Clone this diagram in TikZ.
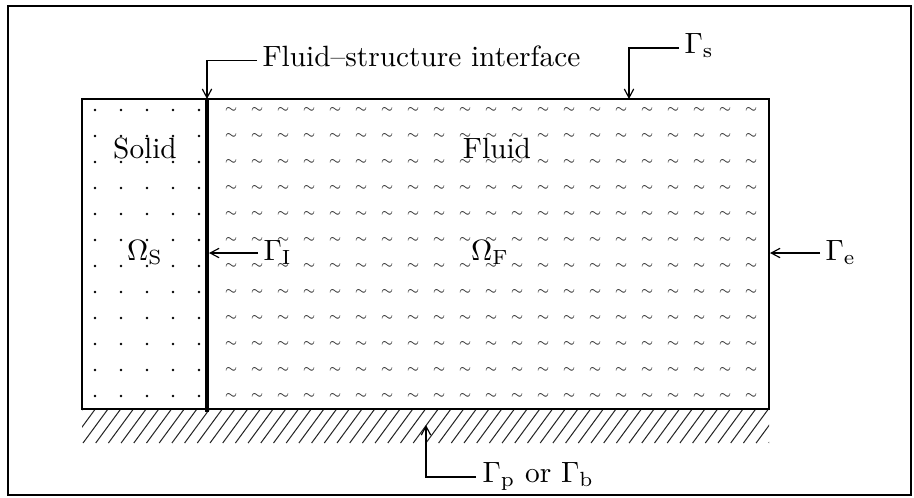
\documentclass[tikz,border=0pt]{standalone}
\usetikzlibrary{arrows.meta}
\begin{document}
\begin{tikzpicture}[x=0.341pt,y=-0.341pt,
  lead/.style={line width=0.4pt,-{Straight Barb[length=3pt,width=3.2pt]}},
  lbl/.style={inner sep=0pt,anchor=base west},
  ctr/.style={inner sep=0pt,anchor=base},
  frame/.style={line width=0.7pt},
  hatchline/.style={line width=0.35pt,black!85},
  tildemark/.style={inner sep=0pt,font=\tiny,scale=0.85,black!85},
  dotmark/.style={fill=black,inner sep=0pt,minimum size=0pt}]
\useasboundingbox (0,0) rectangle (914,497);
\draw[frame] (8,6) rectangle (911,495);
% hatching below the domain
\begin{scope}
  \clip (82,409) rectangle (769,443);
  \foreach \i in {-3,...,55}
    \draw[hatchline] ({83+12.7*\i},443) -- ++(25,-34);
\end{scope}
% solid dots
\foreach \k in {0,...,4}
  \foreach \j in {0,...,11}
    \fill ({95+26*\k},{110+26*\j}) circle[radius=0.5pt];
% fluid tildes
\foreach \k in {0,...,20}
  \foreach \j in {0,...,11}
    \node[tildemark] at ({231+26*\k},{110+26*\j}) {$\sim$};
% domain
\coordinate (dtl) at (82,99);
\coordinate (dbr) at (769,409);
\draw[frame] (dtl) rectangle (dbr);
\coordinate (ifacetop) at (207,99);
\coordinate (ifacebot) at (207,412);
\draw[line width=1.6pt] (ifacetop) -- (ifacebot);
% region labels
\node[ctr] (solid) at (145,158) {Solid};
\node[ctr] (fluid) at (497,158) {Fluid};
\node[ctr] (omegas) at (145,260) {$\Omega_\mathrm{S}$};
\node[ctr] (omegaf) at (490,260) {$\Omega_\mathrm{F}$};
% boundary labels
\node[lbl] (fsi) at (262,66.5) {Fluid--structure interface};
\draw[lead] (fsi.base west) ++(-5,-6) -| (ifacetop);
\node[lbl] (gs) at (684,53) {$\Gamma_\mathrm{s}$};
\coordinate (gstop) at (629,99);
\draw[lead] (gs.base west) ++(-5,-5) -| (gstop);
\node[lbl] (gi) at (263,260) {$\Gamma_\mathrm{I}$};
\coordinate (giend) at (209,253);
\draw[lead] (gi.base west) ++(-5,-7) -- (giend);
\node[lbl] (ge) at (825,260) {$\Gamma_\mathrm{e}$};
\coordinate (geend) at (770,253);
\draw[lead] (ge.base west) ++(-5,-7) -- (geend);
\node[lbl] (gp) at (482,482) {$\Gamma_\mathrm{p}$ or $\Gamma_\mathrm{b}$};
\coordinate (gpend) at (426,425);
\draw[lead] (gp.base west) ++(-6,-5) -| (gpend);
\end{tikzpicture}
\end{document}
